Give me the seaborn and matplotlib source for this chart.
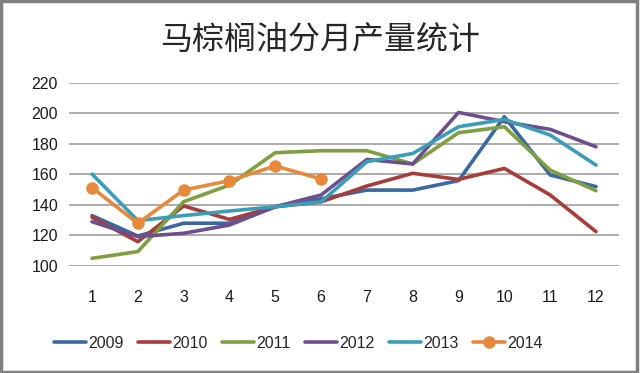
import matplotlib
matplotlib.use("Agg")
import matplotlib.pyplot as plt
import seaborn as sns
import pandas as pd
from matplotlib.patches import Rectangle

months = list(range(1, 13))
y2009 = [133, 119.6, 128, 128, 138.8, 144, 149.7, 149.7, 155.9, 197.8, 159.6, 152]
y2010 = [131.9, 115.9, 139.3, 130.5, 138.8, 142, 152.4, 160.7, 156.7, 163.9, 146.5, 122.5]
y2011 = [105, 109.4, 142.1, 153, 174.2, 175.5, 175.5, 166.8, 187.3, 191.2, 162.8, 149.3]
y2012 = [129, 119.2, 121.4, 126.8, 138.8, 146.5, 169.8, 166.8, 200.6, 194.5, 189.5, 178.1]
y2013 = [160.2, 129.7, 133, 136, 138.8, 142, 168.3, 173.7, 191.2, 196, 185.8, 166.1]
y2014 = [151.3, 127.9, 149.7, 155.9, 165.5, 157.0]
years = ["2009", "2010", "2011", "2012", "2013", "2014"]
yticks = [100, 120, 140, 160, 180, 200, 220]
title = "马棕榈油分月产量统计"

series = [y2009, y2010, y2011, y2012, y2013, y2014]
rows = []
for yr, vals in zip(years, series):
    for m, v in zip(months, vals):
        rows.append({"month": m, "value": v, "year": yr})
df = pd.DataFrame(rows)

colors = {"2009": "#3A68A0", "2010": "#A83C3A", "2011": "#7EA040",
          "2012": "#6D4F8E", "2013": "#3B9EB8", "2014": "#E8883A"}

sns.set_theme(style="white")
plt.rcParams['font.family'] = ['Liberation Sans', 'Noto Sans CJK SC', 'DejaVu Sans']

fig = plt.figure(figsize=(6.4, 3.73), dpi=100)
ax = fig.add_axes([0.108, 0.287, 0.859, 0.491])

for yr in years:
    sub = df[df.year == yr]
    if yr == "2014":
        sns.lineplot(data=sub, x="month", y="value", ax=ax, color=colors[yr],
                     linewidth=2.6, marker="o", markersize=11, markeredgewidth=0,
                     label=yr, legend=False)
    else:
        sns.lineplot(data=sub, x="month", y="value", ax=ax, color=colors[yr],
                     linewidth=2.6, label=yr, legend=False)

ax.set_xlim(0.5, 12.5)
ax.set_ylim(100, 220)
ax.set_yticks(yticks)
ax.set_xticks(months)
ax.set_xticklabels([str(m) for m in months])
ax.yaxis.grid(True, color="#A6A6A6", linewidth=1.3)
ax.set_axisbelow(True)
for s in ax.spines.values():
    s.set_visible(False)
ax.set_xlabel("")
ax.set_ylabel("")
ax.tick_params(axis="both", length=0, labelsize=11.5, colors="#1a1a1a")
ax.tick_params(axis="x", pad=17)
ax.tick_params(axis="y", pad=8)

handles, labels = ax.get_legend_handles_labels()
for h in handles:
    h.set_markersize(9)
fig.legend(handles, labels, loc="center", bbox_to_anchor=(0.466, 0.080), ncol=6,
           frameon=False, fontsize=11.5, handlelength=2.0, handletextpad=0.15,
           columnspacing=0.9)

fig.text(0.5, 0.893, title, ha="center", va="center", fontsize=23,
         family=['Noto Sans CJK SC', 'DejaVu Sans'])

fig.patches.append(Rectangle((0.002, 0.004), 0.994, 0.993, transform=fig.transFigure,
                             fill=False, edgecolor="#7F7F7F", linewidth=2.5))

fig.savefig("out.png", dpi=100)
